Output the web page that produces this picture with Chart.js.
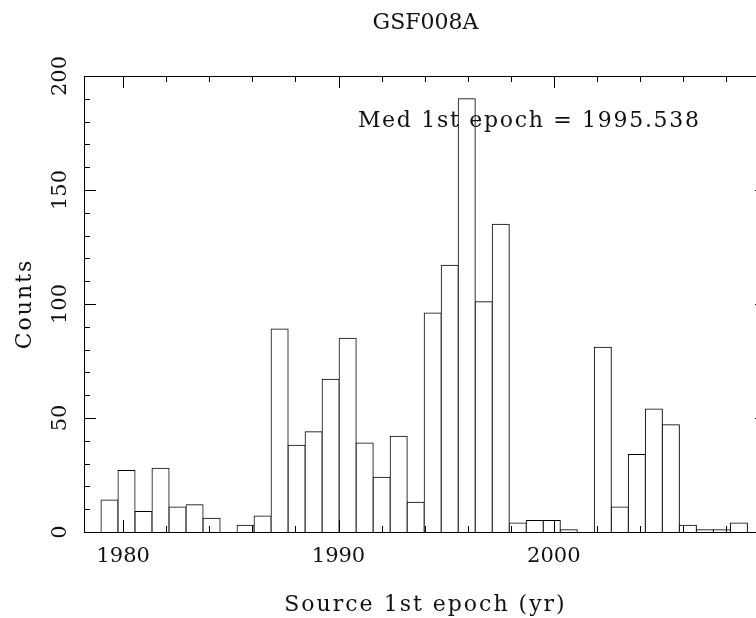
<!DOCTYPE html>
<html>
<head>
<meta charset="utf-8">
<script src="https://cdn.jsdelivr.net/npm/chart.js@4.4.1/dist/chart.umd.min.js"></script>
<style>
  html, body { margin: 0; padding: 0; background: #fff; overflow: hidden; }
</style>
</head>
<body>
<canvas id="epochChart" width="769" height="618"></canvas>
<script>
// histogram of source first epochs: 38 bins of ~0.79 yr
var binStart = 1978.97;
var binWidth = 0.79;
var counts = [14, 27, 9, 28, 11, 12, 6, 0, 3, 7,
              89, 38, 44, 67, 85, 39, 24, 42, 13, 96,
              117, 190, 101, 135, 4, 5, 5, 1, 0, 81,
              11, 34, 54, 47, 3, 1, 1, 4];
var xTicks = [1980, 1990, 2000];
var yTicks = [0, 50, 100, 150, 200];
var plotTitle = 'GSF008A';
var xTitle = 'Source 1st epoch (yr)';
var yTitle = 'Counts';
var medianNote = 'Med 1st epoch = 1995.538';

var points = counts.map(function (c, i) {
  return { x: binStart + (i + 0.5) * binWidth, y: c };
});

var FONT = 'DejaVu Serif';

function drawText(ctx, txt, x, y, size, spacing, align, rot) {
  ctx.save();
  ctx.font = size + 'px "' + FONT + '"';
  ctx.letterSpacing = spacing + 'px';
  ctx.fillStyle = '#111';
  ctx.textAlign = align;
  ctx.textBaseline = 'alphabetic';
  ctx.translate(x, y);
  if (rot) ctx.rotate(rot);
  ctx.fillText(txt, 0, 0);
  ctx.restore();
}

// box, inward tick marks and the text labels
var framePlugin = {
  id: 'frame',
  afterDatasetsDraw: function (chart) {
    var ctx = chart.ctx, a = chart.chartArea;
    var xs = chart.scales.x, ys = chart.scales.y;
    ctx.save();
    ctx.strokeStyle = '#000';
    ctx.lineWidth = 1;
    ctx.beginPath();
    ctx.rect(a.left + 0.5, a.top + 0.5, a.right - a.left, a.bottom - a.top);
    for (var yr = 1980; yr <= 2008; yr += 2) {
      var px = Math.round(xs.getPixelForValue(yr)) + 0.5;
      var len = yr % 10 === 0 ? 12 : 6;
      ctx.moveTo(px, a.bottom); ctx.lineTo(px, a.bottom - len);
      ctx.moveTo(px, a.top); ctx.lineTo(px, a.top + len);
    }
    for (var v = 0; v <= 200; v += 10) {
      var py = Math.round(ys.getPixelForValue(v)) + 0.5;
      var l2 = v % 50 === 0 ? 12 : 6;
      ctx.moveTo(a.left, py); ctx.lineTo(a.left + l2, py);
      ctx.moveTo(a.right, py); ctx.lineTo(a.right - l2, py);
    }
    ctx.stroke();
    ctx.restore();

    var cx = (a.left + a.right) / 2;
    drawText(ctx, plotTitle, cx, 29, 22, 0, 'center');
    drawText(ctx, xTitle, cx, 611, 22, 2, 'center');
    drawText(ctx, yTitle, 31, (a.top + a.bottom) / 2, 22, 2, 'center', -Math.PI / 2);
    drawText(ctx, medianNote, xs.getPixelForValue(1990.9), ys.getPixelForValue(177.8), 22, 1.7, 'left');
  }
};

var tickFont = { family: FONT, size: 21 };

var ctx = document.getElementById('epochChart').getContext('2d');
var epochChart = new Chart(ctx, {
  type: 'bar',
  data: {
    datasets: [{
      label: 'Counts',
      data: points,
      backgroundColor: '#fff',
      borderColor: '#000',
      borderWidth: 1,
      inflateAmount: 0.5,
      barPercentage: 1,
      categoryPercentage: 1
    }]
  },
  options: {
    responsive: false,
    animation: false,
    layout: { padding: { top: 76, right: 2, bottom: 0, left: 0 } },
    plugins: {
      legend: { display: false },
      title: { display: false },
      tooltip: { enabled: false }
    },
    scales: {
      x: {
        type: 'linear',
        min: 1978.18,
        max: 2009.9,
        offset: false,
        afterFit: function (s) { s.height = 86; },
        afterBuildTicks: function (s) { s.ticks = xTicks.map(function (v) { return { value: v }; }); },
        grid: { display: false, drawTicks: false },
        border: { display: false },
        ticks: {
          autoSkip: false, maxRotation: 0, padding: 12, color: '#111', font: tickFont,
          callback: function (v) { return String(v); }
        }
      },
      y: {
        min: 0,
        max: 200,
        afterFit: function (s) { s.width = 84; },
        afterBuildTicks: function (s) { s.ticks = yTicks.map(function (v) { return { value: v }; }); },
        grid: { display: false, drawTicks: false },
        border: { display: false },
        ticks: {
          minRotation: 90, maxRotation: 90, crossAlign: 'center', padding: 3,
          color: '#111', font: tickFont,
          callback: function (v) { return String(v); }
        }
      }
    }
  },
  plugins: [framePlugin]
});
</script>
</body>
</html>
